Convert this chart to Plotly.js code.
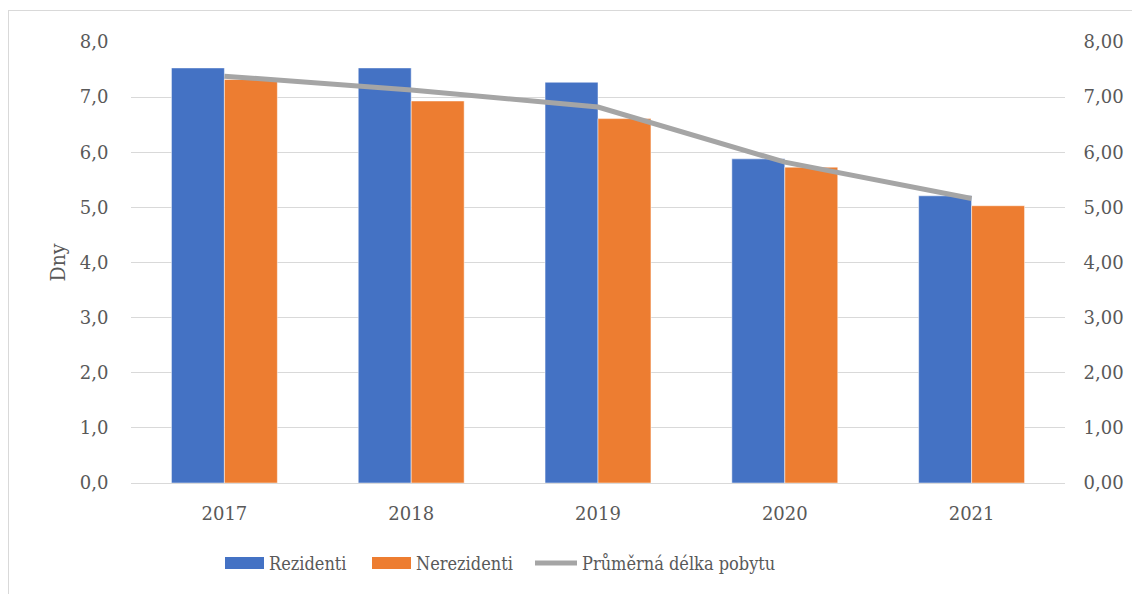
<!DOCTYPE html>
<html>
<head>
<meta charset="utf-8">
<script src="https://cdn.plot.ly/plotly-3.0.1.min.js"></script>
<style>
html,body{margin:0;padding:0;background:#fff;overflow:hidden;}
#frame{position:absolute;left:8px;top:10px;width:1140px;height:600px;border:1px solid #d9d9d9;box-sizing:border-box;pointer-events:none;}
#chart{position:absolute;left:0;top:0;width:1132px;height:594px;}
</style>
</head>
<body>
<div id="chart"></div>
<div id="frame"></div>
<script>
const years = ['2017', '2018', '2019', '2020', '2021'];
const rezidenti = [7.53, 7.53, 7.27, 5.88, 5.21];
const nerezidenti = [7.32, 6.93, 6.61, 5.73, 5.03];
const prumerna = [7.38, 7.13, 6.82, 5.82, 5.16];
const seriesNames = ['Rezidenti', 'Nerezidenti', 'Průměrná délka pobytu'];
const yTicks = [0, 1, 2, 3, 4, 5, 6, 7, 8];

const W = 1132, H = 594;
const M = {l: 131, r: 67, t: 42, b: 111};
const PW = W - M.l - M.r, PH = H - M.t - M.b;
const px = x => (x - M.l) / PW;
const py = y => (H - M.b - y) / PH;

const font = "DejaVu Serif";
const legFont = "DejaVu Serif Condensed, DejaVu Serif";
const txt = '#595959';
const colors = ['#4472c4', '#ed7d31', '#a5a5a5'];

const traces = [
  {type: 'bar', x: years, y: rezidenti, name: seriesNames[0], marker: {color: colors[0], line: {color: '#ffffff', width: 0.5}}, showlegend: false},
  {type: 'bar', x: years, y: nerezidenti, name: seriesNames[1], marker: {color: colors[1], line: {color: '#ffffff', width: 0.5}}, showlegend: false},
  {type: 'scatter', mode: 'lines', x: years, y: prumerna, yaxis: 'y2', name: seriesNames[2], line: {color: colors[2], width: 5}, showlegend: false}
];

const leg = [
  {x0: 225, x1: 264, tx: 267, kind: 'rect'},
  {x0: 372, x1: 411, tx: 414, kind: 'rect'},
  {x0: 535, x1: 577, tx: 580, kind: 'line'}
];
const ly = 563;
const shapes = [], annotations = [];
leg.forEach((l, i) => {
  if (l.kind === 'rect') {
    shapes.push({type: 'rect', xref: 'paper', yref: 'paper', x0: px(l.x0), x1: px(l.x1), y0: py(ly + 6), y1: py(ly - 6), fillcolor: colors[i], line: {width: 0}});
  } else {
    shapes.push({type: 'line', xref: 'paper', yref: 'paper', x0: px(l.x0), x1: px(l.x1), y0: py(ly), y1: py(ly), line: {color: colors[i], width: 5}});
  }
  annotations.push({xref: 'paper', yref: 'paper', x: px(l.tx), y: py(ly), xanchor: 'left', yanchor: 'middle', showarrow: false, text: seriesNames[i], font: {family: legFont, size: 18, color: txt}});
});

const layout = {
  width: W, height: H,
  margin: M,
  paper_bgcolor: '#ffffff', plot_bgcolor: '#ffffff',
  separators: ', ',
  barmode: 'group', bargap: 0.433, bargroupgap: 0,
  showlegend: false,
  font: {family: font, size: 18, color: txt},
  xaxis: {
    type: 'category', showgrid: false, zeroline: false,
    showline: true, linecolor: '#d9d9d9', linewidth: 1,
    ticks: 'outside', ticklen: 14, tickcolor: 'rgba(0,0,0,0)',
    tickfont: {family: font, size: 18, color: txt}
  },
  yaxis: {
    range: [0, 8], tickvals: yTicks, tickformat: '.1f',
    showgrid: true, gridcolor: '#d9d9d9', gridwidth: 1, zeroline: false, showline: false,
    ticks: 'outside', ticklen: 18, tickcolor: 'rgba(0,0,0,0)',
    tickfont: {family: font, size: 18, color: txt},
    title: {text: 'Dny', font: {family: legFont, size: 21, color: txt}, standoff: 8}
  },
  yaxis2: {
    range: [0, 8], tickvals: yTicks, tickformat: '.2f', overlaying: 'y', side: 'right',
    showgrid: false, zeroline: false, showline: false,
    ticks: 'outside', ticklen: 14, tickcolor: 'rgba(0,0,0,0)',
    tickfont: {family: font, size: 18, color: txt}
  },
  shapes: shapes,
  annotations: annotations
};

Plotly.newPlot('chart', traces, layout, {displayModeBar: false, staticPlot: true});
</script>
</body>
</html>
